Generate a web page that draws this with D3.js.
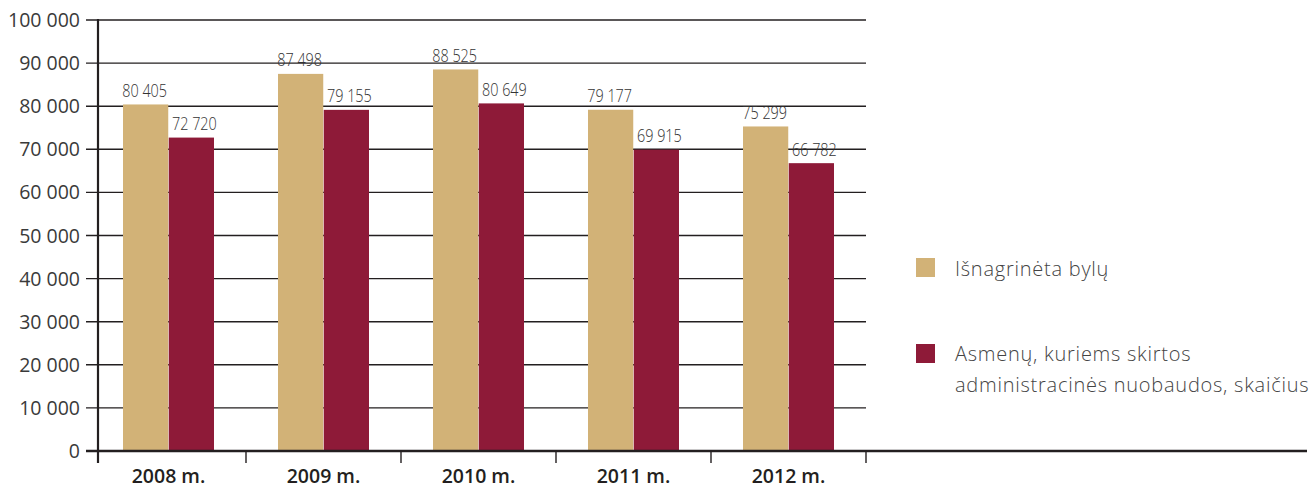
<!DOCTYPE html>
<html><head><meta charset="utf-8">
<script src="https://cdn.jsdelivr.net/npm/d3@7"></script>
<style>
html,body{margin:0;padding:0;background:#fff;}
svg{display:block;}
</style></head>
<body>
<svg id="chart" width="1312" height="488"></svg>
<script>
const categories = ["2008 m.", "2009 m.", "2010 m.", "2011 m.", "2012 m."];
const seriesNames = ["Išnagrinėta bylų", "Asmenų, kuriems skirtos administracinės nuobaudos, skaičius"];
const legendLines = [["Išnagrinėta bylų"], ["Asmenų, kuriems skirtos", "administracinės nuobaudos, skaičius"]];
const cases = [80405, 87498, 88525, 79177, 75299];
const persons = [72720, 79155, 80649, 69915, 66782];
const yTicks = [0, 10000, 20000, 30000, 40000, 50000, 60000, 70000, 80000, 90000, 100000];
const colors = ["#d2b277", "#8e1a38"];

const svg = d3.select("#chart");
const axisX = 98, gridLeft = 86, gridRight = 866, baseY = 451, topY = 20;

const y = d3.scaleLinear().domain([0, 100000]).range([baseY, topY]);
const x = d3.scaleBand().domain(categories).range([91, 866]).padding(0);
const x1 = d3.scaleBand().domain([0, 1]).range([0, 91]).paddingInner(0.011);
const off = (x.bandwidth() - 91) / 2;

const fmt = v => d3.format(",")(v).replace(/,/g, " ");

// gridlines
svg.append("g").selectAll("line").data(yTicks.filter(d => d > 0)).join("line")
  .attr("x1", gridLeft).attr("x2", gridRight)
  .attr("y1", d => y(d)).attr("y2", d => y(d))
  .attr("stroke", "#231f20").attr("stroke-width", 1.4);

// y tick labels
svg.append("g").selectAll("text").data(yTicks).join("text")
  .attr("x", 80).attr("y", d => y(d)).attr("dy", "0.36em")
  .attr("text-anchor", "end")
  .style("font-family", "'Open Sans', sans-serif").style("font-size", "19.5px")
  .attr("fill", "#3a3a3a")
  .text(d => fmt(d));

// bars
const series = [cases, persons];
const groups = svg.append("g").selectAll("g").data(categories).join("g")
  .attr("transform", d => `translate(${x(d) + off},0)`);
groups.selectAll("rect").data((c, i) => series.map((s, k) => ({k, v: s[i]}))).join("rect")
  .attr("x", d => x1(d.k)).attr("width", x1.bandwidth())
  .attr("y", d => y(d.v)).attr("height", d => baseY - y(d.v))
  .attr("fill", d => colors[d.k]);
groups.selectAll("text").data((c, i) => series.map((s, k) => ({k, v: s[i]}))).join("text")
  .attr("transform", d => `translate(${x1(d.k) + x1.bandwidth() / 2 + (d.k === 1 ? 3 : -1)},${y(d.v) - 7.5}) scale(0.8,1)`)
  .attr("text-anchor", "middle")
  .style("font-family", "'Open Sans', sans-serif")
  .style("font-size", "18px").style("font-weight", "350")
  .attr("fill", "#333")
  .text(d => fmt(d.v));

// y axis line
svg.append("line").attr("x1", axisX).attr("x2", axisX).attr("y1", topY - 1).attr("y2", 463)
  .attr("stroke", "#231f20").attr("stroke-width", 2.2);

// x axis
svg.append("line").attr("x1", gridLeft).attr("x2", 1307).attr("y1", baseY).attr("y2", baseY)
  .attr("stroke", "#231f20").attr("stroke-width", 2.4);
const xTickPos = categories.map(c => x(c) + x.bandwidth()).filter(v => v > axisX);
svg.append("g").selectAll("line").data(xTickPos).join("line")
  .attr("x1", d => d).attr("x2", d => d).attr("y1", baseY).attr("y2", 463)
  .attr("stroke", "#231f20").attr("stroke-width", 1.4);
svg.append("g").selectAll("text").data(categories).join("text")
  .attr("x", d => x(d) + x.bandwidth() / 2).attr("y", 483)
  .attr("text-anchor", "middle")
  .style("font-family", "'Open Sans', sans-serif").style("font-size", "19.5px").style("font-weight", "550")
  .attr("fill", "#231f20")
  .text(d => d);

// legend
const legendY = [[258, 276], [344, 361]];
const lg = svg.append("g").selectAll("g").data(seriesNames).join("g");
lg.append("rect").attr("x", 916).attr("y", (d, i) => legendY[i][0]).attr("width", 19).attr("height", 19)
  .attr("fill", (d, i) => colors[i]);
lg.append("text").attr("x", 955).attr("y", (d, i) => legendY[i][1])
  .style("font-family", "'Open Sans', sans-serif").style("font-size", "20px").style("letter-spacing", "0.75px")
  .style("font-weight", "350")
  .attr("fill", "#444")
  .selectAll("tspan").data((d, i) => legendLines[i]).join("tspan")
  .attr("x", 955).attr("dy", (d, j) => j === 0 ? 0 : 31)
  .text(d => d);
</script>
</body></html>
